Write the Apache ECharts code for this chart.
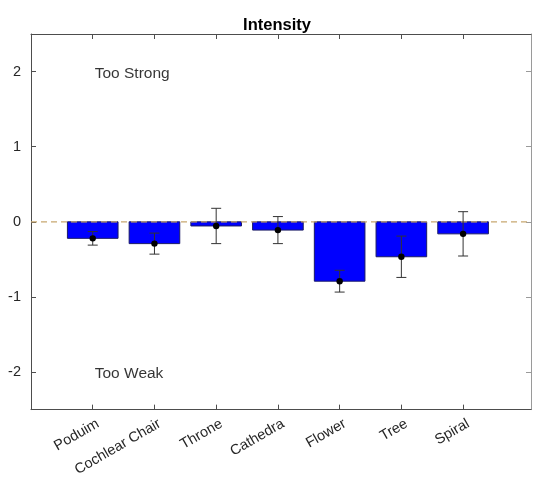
<!DOCTYPE html>
<html><head><meta charset="utf-8">
<script src="https://cdn.jsdelivr.net/npm/echarts@6/dist/echarts.min.js"></script>
<style>html,body{margin:0;padding:0;background:#fff}#c{width:534px;height:479px}</style>
</head><body><div id="c"></div>
<script>
var categories = ['Poduim', 'Cochlear Chair', 'Throne', 'Cathedra', 'Flower', 'Tree', 'Spiral'];
var means = [-0.22, -0.29, -0.055, -0.11, -0.79, -0.465, -0.16];
var errors = [0.09, 0.14, 0.235, 0.18, 0.145, 0.275, 0.295];
var yTicks = [-2, -1, 0, 1, 2];
var annotations = [['Too Strong', 1, 2], ['Too Weak', 1, -2]];
var title = 'Intensity';

var positions = categories.map(function (c, i) { return i + 1; });
var barData = categories.map(function (c, i) { return [i + 1, means[i]]; });
var errData = categories.map(function (c, i) { return [i + 1, means[i] - errors[i], means[i] + errors[i], means[i]]; });

var axisColor = '#4d4d4d';
var font = 'Liberation Sans, Arial, Helvetica, sans-serif';
var chart = echarts.init(document.getElementById('c'), null, {renderer: 'canvas'});
chart.setOption({
  animation: false,
  backgroundColor: '#fff',
  title: {text: title, left: 272, top: 12, textAlign: 'center',
    textStyle: {fontFamily: font, fontSize: 16.5, fontWeight: 'bold', color: '#000'}},
  grid: {left: 31, right: 3, top: 34, bottom: 69, containLabel: false},
  xAxis: [{
    type: 'value', min: 0, max: 8.1, position: 'bottom',
    splitLine: {show: false},
    axisLine: {show: true, onZero: false, lineStyle: {color: axisColor}},
    axisTick: {show: true, inside: true, length: 5, customValues: positions, lineStyle: {color: axisColor}},
    axisLabel: {show: true, customValues: positions, rotate: 30, margin: 16, padding: [0, -6, 0, 0],
      fontFamily: font, fontSize: 14.5, color: '#262626',
      formatter: function (v) { return categories[Math.round(v) - 1] || ''; }}
  }, {
    type: 'value', min: 0, max: 8.1, position: 'top',
    splitLine: {show: false},
    axisLine: {show: true, onZero: false, lineStyle: {color: axisColor}},
    axisTick: {show: true, inside: true, length: 5, customValues: positions, lineStyle: {color: axisColor}},
    axisLabel: {show: false}
  }],
  yAxis: [{
    type: 'value', min: -2.5, max: 2.5, position: 'left',
    splitLine: {show: false},
    axisLine: {show: true, onZero: false, lineStyle: {color: axisColor}},
    axisTick: {show: true, inside: true, length: 5, customValues: yTicks, lineStyle: {color: axisColor}},
    axisLabel: {show: true, customValues: yTicks, margin: 10, fontFamily: font, fontSize: 14.5, color: '#262626'}
  }, {
    type: 'value', min: -2.5, max: 2.5, position: 'right',
    splitLine: {show: false},
    axisLine: {show: true, onZero: false, lineStyle: {color: '#9a9a9a'}},
    axisTick: {show: true, inside: true, length: 5, customValues: yTicks, lineStyle: {color: '#9a9a9a'}},
    axisLabel: {show: false}
  }],
  series: [{
    type: 'custom', xAxisIndex: 0, yAxisIndex: 0, z: 2,
    data: barData,
    renderItem: function (params, api) {
      var x = api.value(0), v = api.value(1);
      var p1 = api.coord([x - 0.41, 0]);
      var p2 = api.coord([x + 0.41, v]);
      return {type: 'rect',
        shape: {x: p1[0], y: Math.min(p1[1], p2[1]), width: p2[0] - p1[0], height: Math.abs(p2[1] - p1[1])},
        style: {fill: '#0000ff', stroke: '#1a1a66', lineWidth: 1}};
    }
  }, {
    type: 'line', xAxisIndex: 0, yAxisIndex: 0, z: 3,
    data: [[0, 0], [8.1, 0]], symbol: 'none',
    lineStyle: {color: '#c8a870', width: 1.2, type: [6, 4]}
  }, {
    type: 'custom', xAxisIndex: 0, yAxisIndex: 0, z: 4,
    data: errData,
    renderItem: function (params, api) {
      var x = api.value(0);
      var lo = api.coord([x, api.value(1)]);
      var hi = api.coord([x, api.value(2)]);
      var m = api.coord([x, api.value(3)]);
      var cw = 5;
      var st = {stroke: '#333', lineWidth: 1};
      return {type: 'group', children: [
        {type: 'line', shape: {x1: lo[0], y1: lo[1], x2: hi[0], y2: hi[1]}, style: st},
        {type: 'line', shape: {x1: lo[0] - cw, y1: lo[1], x2: lo[0] + cw, y2: lo[1]}, style: st},
        {type: 'line', shape: {x1: hi[0] - cw, y1: hi[1], x2: hi[0] + cw, y2: hi[1]}, style: st},
        {type: 'circle', shape: {cx: m[0], cy: m[1], r: 3.2}, style: {fill: '#000'}}
      ]};
    }
  }, {
    type: 'scatter', xAxisIndex: 0, yAxisIndex: 0, z: 5,
    data: annotations.map(function (a) { return {value: [a[1], a[2]], name: a[0]}; }),
    symbolSize: 0,
    label: {show: true, position: 'right', distance: 2, offset: [0, 2], formatter: '{b}',
      fontFamily: font, fontSize: 15.5, color: '#000'}
  }]
});
</script></body></html>
